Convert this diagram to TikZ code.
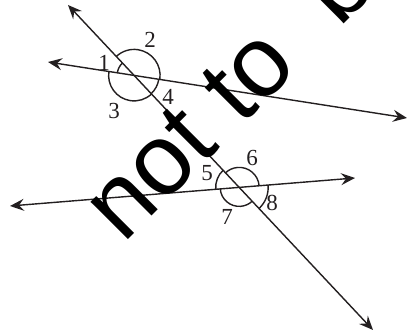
\documentclass[tikz,border=0pt]{standalone}
\usepackage{fontspec}
\setmainfont{Liberation Serif}
\newfontfamily\wmfont{Liberation Sans}
\usetikzlibrary{arrows.meta}
\definecolor{linecol}{HTML}{231F20}
\begin{document}
\begin{tikzpicture}[x=1pt,y=1pt,
  tip/.tip={Stealth[length=14pt,width=12pt,inset=5pt]},
  ln/.style={line width=1.4pt, draw=linecol, fill=linecol, tip-tip},
  arcmark/.style={line width=1.4pt, draw=linecol},
  lbl/.style={font=\fontsize{23}{25}\selectfont, text=linecol, inner sep=0pt},
  wm/.style={font=\wmfont\fontsize{100}{120}\selectfont, text=black, inner sep=0pt, anchor=base west, rotate=45}]
\useasboundingbox (0,0) rectangle (408,336);
\begin{scope}
\clip (0,0) rectangle (408,336);
\coordinate (T1) at (68,331);
\coordinate (T2) at (373,6);
\coordinate (U1) at (48,274);
\coordinate (U2) at (407,218);
\coordinate (W1) at (10,130);
\coordinate (W2) at (355,158);
\draw[ln] (T1) -- (T2);
\draw[ln] (U1) -- (U2);
\draw[ln] (W1) -- (W2);
\coordinate (P) at (intersection of T1--T2 and U1--U2);
\coordinate (Q) at (intersection of T1--T2 and W1--W2);
% upper intersection
\draw[arcmark] (P) ++(-8.87:26) arc[start angle=-8.87, end angle=133.18, radius=26];
\draw[arcmark] (P) ++(133.18:17) arc[start angle=133.18, end angle=171.13, radius=17];
\draw[arcmark] (P) ++(171.13:25.5) arc[start angle=171.13, end angle=313.18, radius=25.5];
\draw[arcmark] (P) ++(-46.82:25) arc[start angle=-46.82, end angle=-8.87, radius=25];
% lower intersection
\draw[arcmark] (Q) ++(4.64:20) arc[start angle=4.64, end angle=133.18, radius=20];
\draw[arcmark] (Q) ++(133.18:23.5) arc[start angle=133.18, end angle=184.64, radius=23.5];
\draw[arcmark] (Q) ++(184.64:19) arc[start angle=184.64, end angle=313.18, radius=19];
\draw[arcmark] (Q) ++(-46.82:29) arc[start angle=-46.82, end angle=4.64, radius=29];
% labels
\node[lbl] (a1) at (104,273) {1};
\node[lbl] (a2) at (150,296) {2};
\node[lbl] (a3) at (114,225) {3};
\node[lbl] (a4) at (168,239) {4};
\node[lbl] (a5) at (207,163) {5};
\node[lbl] (a6) at (252,178) {6};
\node[lbl] (a7) at (227,119) {7};
\node[lbl] (a8) at (272,133) {8};
% watermark
\node[wm] (wm) at (123,91) {not to\hspace{0.28em} be};
\end{scope}
\end{tikzpicture}
\end{document}
